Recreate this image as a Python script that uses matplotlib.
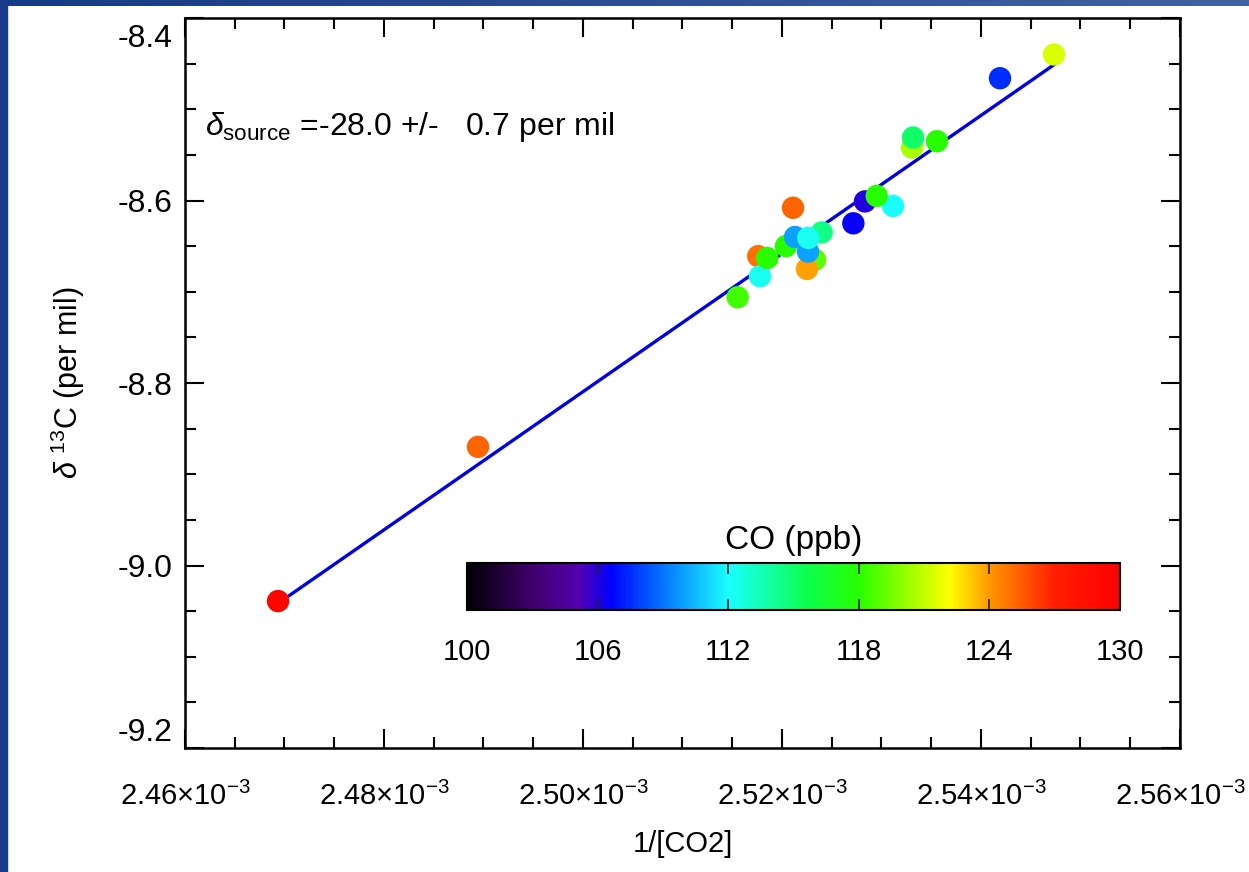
import numpy as np
import matplotlib
matplotlib.use("Agg")
import matplotlib.pyplot as plt
from matplotlib.colors import LinearSegmentedColormap, Normalize
from matplotlib.cm import ScalarMappable
from matplotlib.patches import Rectangle
from matplotlib.transforms import ScaledTranslation

plt.rcParams['font.family'] = ['Liberation Sans', 'DejaVu Sans']
plt.rcParams['mathtext.fontset'] = 'custom'
plt.rcParams['mathtext.rm'] = 'Liberation Sans'
plt.rcParams['mathtext.it'] = 'Liberation Sans:italic'
plt.rcParams['axes.unicode_minus'] = False

# 1/[CO2], delta 13C, CO (ppb) -- listed in drawing order
inv_co2 = [2.46935e-3, 2.48945e-3, 2.51554e-3, 2.51761e-3, 2.51779e-3, 2.51852e-3,
           2.52040e-3, 2.52332e-3, 2.52251e-3, 2.52131e-3, 2.52399e-3, 2.52262e-3,
           2.52264e-3, 2.52111e-3, 2.52717e-3, 2.52834e-3, 2.53116e-3, 2.52952e-3,
           2.53307e-3, 2.53317e-3, 2.53558e-3, 2.54191e-3, 2.54734e-3]
d13c = [-9.039, -8.870, -8.706, -8.661, -8.683, -8.663,
        -8.650, -8.665, -8.675, -8.640, -8.635, -8.656,
        -8.641, -8.608, -8.625, -8.601, -8.606, -8.595,
        -8.542, -8.531, -8.535, -8.466, -8.440]
co_ppb = [129.5, 125.3, 118.5, 125, 112.3, 118,
          118, 119, 123.8, 110, 114.5, 110,
          112.3, 125.3, 106.5, 106, 112, 118,
          120.5, 115, 118, 107.5, 121.5]

x_ticks = [2.46e-3, 2.48e-3, 2.50e-3, 2.52e-3, 2.54e-3, 2.56e-3]
y_ticks = [-9.2, -9.0, -8.8, -8.6, -8.4]
co_ticks = [100, 106, 112, 118, 124, 130]

# IDL-like rainbow colour table
rainbow = LinearSegmentedColormap.from_list('idl_rainbow', [
    (0.00, (0.0, 0.0, 0.0)),
    (0.10, (0.25, 0.0, 0.42)),
    (0.17, (0.33, 0.0, 0.68)),
    (0.22, (0.0, 0.0, 1.0)),
    (0.28, (0.0, 0.35, 1.0)),
    (0.40, (0.1, 1.0, 1.0)),
    (0.52, (0.05, 1.0, 0.3)),
    (0.60, (0.15, 1.0, 0.0)),
    (0.74, (1.0, 1.0, 0.0)),
    (0.80, (1.0, 0.6, 0.0)),
    (0.90, (1.0, 0.12, 0.0)),
    (1.00, (1.0, 0.0, 0.0)),
], N=512)
norm = Normalize(vmin=100, vmax=130)

fig = plt.figure(figsize=(12.49, 8.72), dpi=100, facecolor='white')

# blue slide frame
band = fig.add_axes([0, 1 - 6 / 872, 1, 6 / 872])
band.imshow(np.linspace(0, 1, 256)[None, :], aspect='auto',
            cmap=LinearSegmentedColormap.from_list('band', ['#173a86', '#4262a2']))
band.axis('off')
fig.add_artist(Rectangle((0, 0), 7 / 1249, 1, transform=fig.transFigure,
                         color='#183c8a', zorder=5))

ax = fig.add_axes([185 / 1249, 1 - 748 / 872, 995 / 1249, 730 / 872])

# Keeling fit
coef = np.polyfit(inv_co2, d13c, 1)
xf = np.array([min(inv_co2), max(inv_co2)])
ax.plot(xf, np.polyval(coef, xf), color=(0.0, 0.0, 0.9), lw=2.4, zorder=2)

ax.scatter(inv_co2, d13c, c=co_ppb, cmap=rainbow, norm=norm, s=260,
           edgecolors='none', zorder=3)

ax.set_xlim(2.46e-3, 2.56e-3)
ax.set_ylim(-9.2, -8.4)
ax.set_xticks(x_ticks)
ax.set_xticks(np.arange(2.46e-3, 2.5601e-3, 0.5e-5), minor=True)
ax.set_yticks(y_ticks)
ax.set_yticks(np.arange(-9.2, -8.39, 0.05), minor=True)
ax.set_xticklabels([f'{v * 1e3:.2f}' + r'$\times$10$^{-3}$' for v in x_ticks])
ax.set_yticklabels([f'{v:.1f}' for v in y_ticks])

ax.tick_params(which='both', direction='in', top=True, right=True, width=1.5)
ax.tick_params(which='major', length=14)
ax.tick_params(axis='y', which='major', pad=9, labelsize=23)
ax.tick_params(axis='x', which='major', pad=24, labelsize=21)
ax.tick_params(which='minor', length=8)
for s in ax.spines.values():
    s.set_linewidth(1.8)

ylabs = ax.get_yticklabels()
ylabs[0].set_va('bottom')
ylabs[-1].set_va('top')
ylabs[-1].set_transform(ylabs[-1].get_transform()
                        + ScaledTranslation(0, -0.06, fig.dpi_scale_trans))

ax.set_xlabel('1/[CO2]', fontsize=21)
ax.xaxis.set_label_coords(0.5, -0.112)
ax.set_ylabel(r'$\delta$ $^{13}$C (per mil)', fontsize=22)
ax.yaxis.set_label_coords(-0.098, 0.5)

ax.text(0.02, 0.85, r'$\delta_{\rm source}$ =-28.0 +/-   0.7 per mil',
        transform=ax.transAxes, fontsize=23, va='center', ha='left')

# colour bar
cax = fig.add_axes([467 / 1249, 1 - 610 / 872, 653 / 1249, 47 / 872])
cb = fig.colorbar(ScalarMappable(norm=norm, cmap=rainbow), cax=cax,
                  orientation='horizontal', ticks=co_ticks)
cb.outline.set_linewidth(1.5)
cax.tick_params(axis='x', direction='in', top=True, bottom=True, length=8,
                width=1.2, color='#222222', labelsize=21, pad=20)
cax.set_title('CO (ppb)', fontsize=24, pad=10)

fig.savefig('out.png', dpi=100, facecolor='white')
